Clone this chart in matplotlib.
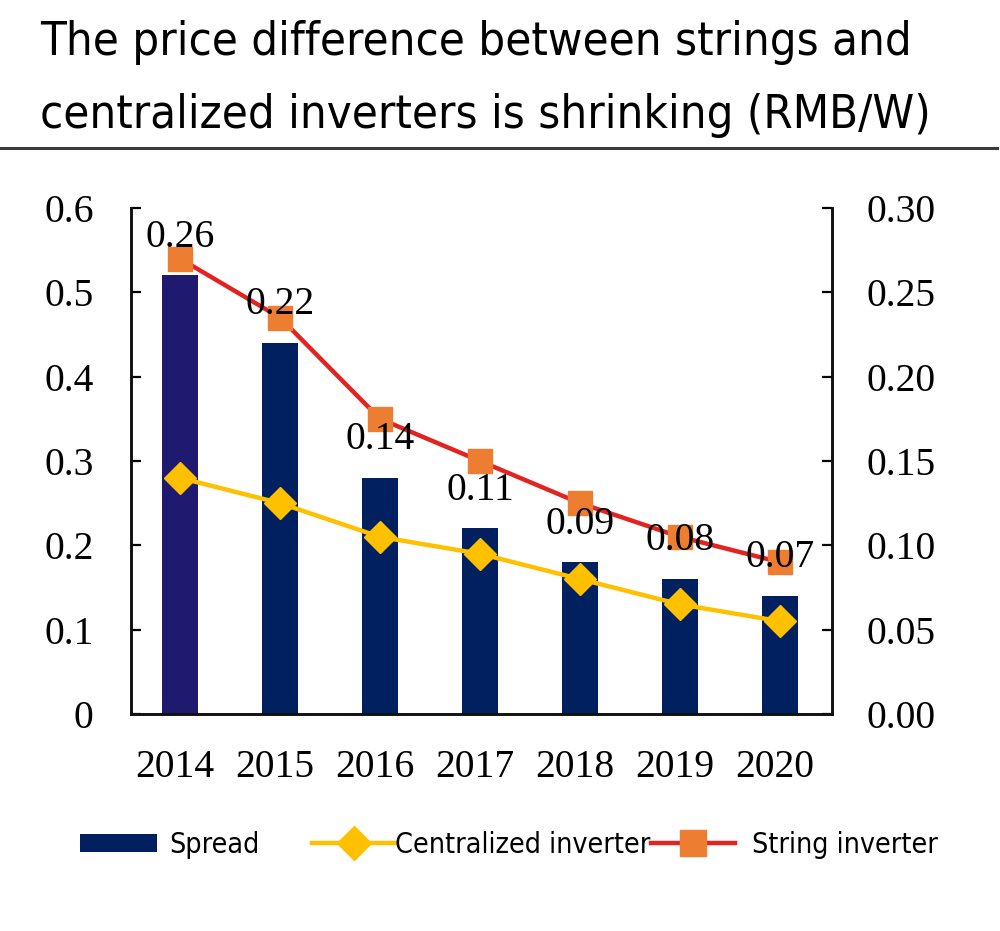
import matplotlib
matplotlib.use('Agg')
import matplotlib.pyplot as plt
from matplotlib import font_manager
from matplotlib.font_manager import FontProperties
from matplotlib.patches import Patch
from matplotlib.lines import Line2D
from matplotlib.transforms import ScaledTranslation

# ---------------- data ----------------
years = ['2014', '2015', '2016', '2017', '2018', '2019', '2020']
spread = [0.26, 0.22, 0.14, 0.11, 0.09, 0.08, 0.07]
centralized = [0.28, 0.25, 0.21, 0.19, 0.16, 0.13, 0.11]
string_inv = [0.54, 0.47, 0.35, 0.30, 0.25, 0.21, 0.18]
left_ticks = [0, 0.1, 0.2, 0.3, 0.4, 0.5, 0.6]
left_labels = ['0', '0.1', '0.2', '0.3', '0.4', '0.5', '0.6']
right_ticks = [0, 0.05, 0.10, 0.15, 0.20, 0.25, 0.30]
right_labels = ['0.00', '0.05', '0.10', '0.15', '0.20', '0.25', '0.30']
title_lines = ['The price difference between strings and',
               'centralized inverters is shrinking (RMB/W)']
legend_labels = ['Spread', 'Centralized inverter', 'String inverter']

# ---------------- styles ----------------
W, H = 1000, 931
NAVY = '#002060'
NAVY_FIRST = '#1F1A6F'
YELLOW = '#FFC000'
RED = '#E3231F'
ORANGE = '#ED7D31'
serif = ['Liberation Serif', 'DejaVu Serif']
NUM_FS = 28.5

fig = plt.figure(figsize=(W / 100, H / 100), dpi=100)
fig.patch.set_facecolor('white')
renderer = fig.canvas.get_renderer()

# sans font similar to Tahoma (condensed DejaVu if available)
cond_path = None
for e in font_manager.fontManager.ttflist:
    if e.fname.lower().endswith('dejavusanscondensed.ttf'):
        cond_path = e.fname
        break
if cond_path:
    sans_fp = FontProperties(fname=cond_path)
else:
    sans_fp = FontProperties(family='DejaVu Sans')


def fit_size(text, target_px, base=30.0):
    fp = sans_fp.copy()
    fp.set_size(base)
    t = fig.text(0, 0, text, fontproperties=fp)
    w = t.get_window_extent(renderer).width
    t.remove()
    return base * target_px / w


title_fs = fit_size(title_lines[0], 870)
leg_fs = fit_size(legend_labels[1], 255)

# ---------------- title ----------------
tfp = sans_fp.copy()
tfp.set_size(title_fs)
fig.text(40 / W, 1 - 55 / H, title_lines[0], fontproperties=tfp, va='baseline', ha='left')
fig.text(40 / W, 1 - 128 / H, title_lines[1], fontproperties=tfp, va='baseline', ha='left')
fig.add_artist(Line2D([0, 0.997], [1 - 148 / H, 1 - 148 / H], transform=fig.transFigure,
                      color='#3a3a3a', lw=2.2))

# ---------------- axes ----------------
AX_TOP, AX_BOT = 208, 714
ax = fig.add_axes([131 / W, 1 - AX_BOT / H, 701 / W, (AX_BOT - AX_TOP) / H])
ax2 = ax.twinx()
ax.set_zorder(2)
ax2.set_zorder(1)
ax.patch.set_visible(False)
ax2.patch.set_visible(False)

x = list(range(len(years)))
bar_colors = [NAVY_FIRST] + [NAVY] * (len(years) - 1)
ax2.bar(x, spread, width=0.36, color=bar_colors, zorder=2)

ax.plot(x, centralized, color=YELLOW, lw=3.2, marker='D', markersize=16,
        markerfacecolor=YELLOW, markeredgecolor=YELLOW, zorder=3)
ax.plot(x, string_inv, color=RED, lw=3.2, marker='s', markersize=17.5,
        markerfacecolor=ORANGE, markeredgecolor=ORANGE, zorder=4)

for i, v in enumerate(spread):
    ax.annotate(f'{v:.2f}', xy=(i, v), xycoords=ax2.transData,
                xytext=(0, 27.5), textcoords='offset points',
                ha='center', va='center', fontsize=NUM_FS, family=serif,
                color='#000000', zorder=10, annotation_clip=False)

ax.set_xlim(-0.49, 6.52)
ax.set_ylim(0, 0.6)
ax2.set_ylim(0, 0.30)

ax.set_xticks(x)
ax.set_xticklabels(years, fontsize=NUM_FS, family=serif)
ax.set_yticks(left_ticks)
ax.set_yticklabels(left_labels, fontsize=NUM_FS, family=serif)
ax2.set_yticks(right_ticks)
ax2.set_yticklabels(right_labels, fontsize=NUM_FS, family=serif)

ax.tick_params(axis='x', length=0, pad=25, colors='#000000')
ax.tick_params(axis='y', direction='in', length=7, width=1.6, pad=27, colors='#000000')
ax2.tick_params(axis='y', direction='in', length=7, width=1.6, pad=25, colors='#000000')

shift = ScaledTranslation(-5 / 100, 0, fig.dpi_scale_trans)
for lbl in ax.get_xticklabels():
    lbl.set_transform(lbl.get_transform() + shift)

for a in (ax, ax2):
    a.spines['top'].set_visible(False)
    for s in ('left', 'right', 'bottom'):
        a.spines[s].set_linewidth(2.1)
        a.spines[s].set_color('#111111')
ax.spines['right'].set_visible(False)
ax2.spines['left'].set_visible(False)
ax2.spines['bottom'].set_visible(False)

# ---------------- legend ----------------
lfp = sans_fp.copy()
lfp.set_size(leg_fs)
fs_px = leg_fs * 100 / 72
ly = 1 - 845 / H

h_spread = Patch(facecolor=NAVY, edgecolor='none')
h_cent = Line2D([], [], color=YELLOW, lw=3.2, marker='D', markersize=17,
                markerfacecolor=YELLOW, markeredgecolor=YELLOW)
h_str = Line2D([], [], color=RED, lw=3.2, marker='s', markersize=18.5,
               markerfacecolor=ORANGE, markeredgecolor=ORANGE)

specs = [
    (h_spread, legend_labels[0], 80, 77, 12),
    (h_cent, legend_labels[1], 312, 83, 0),
    (h_str, legend_labels[2], 651, 84, 17),
]
for h, lab, x0, hl, tp in specs:
    fig.legend([h], [lab], loc='center left', bbox_to_anchor=(x0 / W, ly),
               bbox_transform=fig.transFigure, frameon=False, prop=lfp,
               borderpad=0, borderaxespad=0, handlelength=hl / fs_px,
               handleheight=18 / fs_px, handletextpad=tp / fs_px, numpoints=1)

fig.savefig('out.png', dpi=100, facecolor='white')
